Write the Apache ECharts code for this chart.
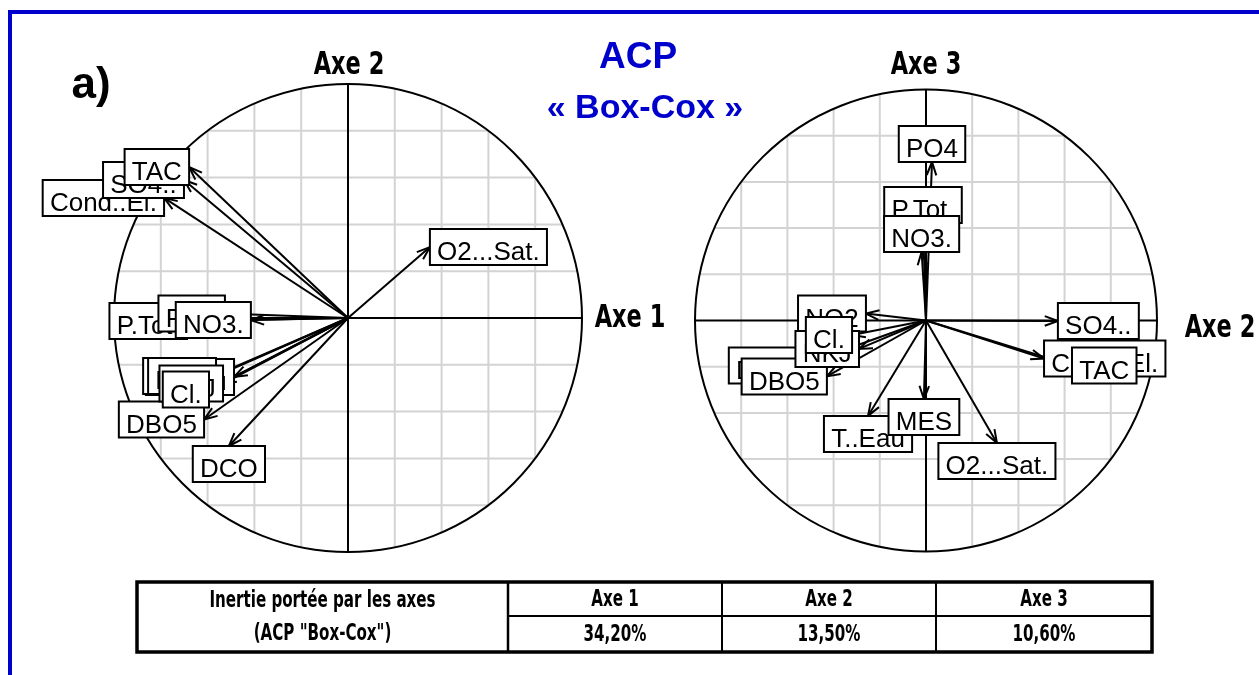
<!DOCTYPE html>
<html>
<head>
<meta charset="utf-8">
<script src="https://cdn.jsdelivr.net/npm/echarts@6/dist/echarts.min.js"></script>
<style>
  html, body { margin: 0; padding: 0; background: #fff; }
  #acp-chart { width: 1259px; height: 675px; }
</style>
</head>
<body>
<div id="acp-chart"></div>
<script>
/* data */
// variables, same order in both circles (later ones drawn on top)
const variables = ['T..Eau', 'MES', 'Cond..El.', 'SO4..', 'TAC', 'O2...Sat.', 'DCO', 'DBO5', 'NO2', 'NKJ', 'Cl.', 'P.Tot.', 'PO4', 'NO3.']
// left circle : Axe 1 (x) / Axe 2 (y)
const axe1Left = [-0.487, -0.573, -0.786, -0.701, -0.679, 0.35, -0.509, -0.615, -0.564, -0.534, -0.594, -0.688, -0.526, -0.415]
const axe2Left = [-0.252, -0.248, 0.513, 0.59, 0.645, 0.303, -0.547, -0.434, -0.248, -0.28, -0.306, -0.013, 0.019, -0.009]
// right circle : Axe 2 (x) / Axe 3 (y)
const axe2Right = [-0.251, -0.009, 0.511, 0.571, 0.632, 0.307, -0.541, -0.429, -0.26, -0.29, -0.32, -0.013, 0.026, -0.019]
const axe3Right = [-0.413, -0.34, -0.165, -0.002, -0.195, -0.53, -0.195, -0.242, 0.03, -0.123, -0.063, 0.422, 0.686, 0.297]
// grid lines of the correlation circles
const gridTicks = [-0.8, -0.6, -0.4, -0.2, 0.2, 0.4, 0.6, 0.8]
// inertia table
const tableHead = 'Inertie portée par les axes'
const tableSub = '(ACP "Box-Cox")'
const tableAxes = ['Axe 1', 'Axe 2', 'Axe 3']
const tableInertia = ['34,20%', '13,50%', '10,60%']

const BLUE = '#0000cc'
const labelFont = '26px "Liberation Sans", Arial, sans-serif'
const narrowFont = '"Liberation Sans Narrow", "DejaVu Sans Condensed", "Liberation Sans", sans-serif'

// text width
const measureCtx = document.createElement('canvas').getContext('2d')
function textWidth(s, font) {
  measureCtx.font = font
  return measureCtx.measureText(s).width
}

const toPoints = (xs, ys) => xs.map((x, i) => [x, ys[i], variables[i]])

/* series builders */
// light grid, cut by the circle
function gridSeries(idx) {
  return {
    type: 'custom',
    xAxisIndex: idx,
    yAxisIndex: idx,
    z: 1,
    data: gridTicks.map(v => [v]),
    renderItem: (params, api) => {
      const v = api.value(0)
      const half = Math.sqrt(1 - v * v)
      const h1 = api.coord([-half, v]), h2 = api.coord([half, v])
      const v1 = api.coord([v, -half]), v2 = api.coord([v, half])
      const style = { stroke: '#d3d3d3', lineWidth: 2 }
      return {
        type: 'group',
        children: [
          { type: 'line', shape: { x1: h1[0], y1: h1[1], x2: h2[0], y2: h2[1] }, style },
          { type: 'line', shape: { x1: v1[0], y1: v1[1], x2: v2[0], y2: v2[1] }, style }
        ]
      }
    }
  }
}

// circle and the two axes
function circleSeries(idx) {
  return {
    type: 'custom',
    xAxisIndex: idx,
    yAxisIndex: idx,
    z: 2,
    data: [[0, 0]],
    renderItem: (params, api) => {
      const c = api.coord([0, 0])
      const r = api.size([1, 1])[0]
      const style = { stroke: '#000', lineWidth: 2, fill: null }
      return {
        type: 'group',
        children: [
          { type: 'circle', shape: { cx: c[0], cy: c[1], r }, style },
          { type: 'line', shape: { x1: c[0] - r, y1: c[1], x2: c[0] + r, y2: c[1] }, style },
          { type: 'line', shape: { x1: c[0], y1: c[1] - r, x2: c[0], y2: c[1] + r }, style }
        ]
      }
    }
  }
}

// arrows from the origin
function arrowSeries(idx, pts) {
  return {
    type: 'custom',
    xAxisIndex: idx,
    yAxisIndex: idx,
    z: 3,
    data: pts,
    renderItem: (params, api) => {
      const o = api.coord([0, 0])
      const p = api.coord([api.value(0), api.value(1)])
      const ang = Math.atan2(p[1] - o[1], p[0] - o[0])
      const L = 14, a = Math.PI / 9
      const h1 = [p[0] - L * Math.cos(ang - a), p[1] - L * Math.sin(ang - a)]
      const h2 = [p[0] - L * Math.cos(ang + a), p[1] - L * Math.sin(ang + a)]
      const style = { stroke: '#000', lineWidth: 2, fill: null }
      return {
        type: 'group',
        children: [
          { type: 'line', shape: { x1: o[0], y1: o[1], x2: p[0], y2: p[1] }, style },
          { type: 'polyline', shape: { points: [h1, p, h2] }, style }
        ]
      }
    }
  }
}

// boxed labels placed around the arrow tips
function labelSeries(idx, pts) {
  return {
    type: 'custom',
    xAxisIndex: idx,
    yAxisIndex: idx,
    z: 4,
    data: pts,
    renderItem: (params, api) => {
      const name = pts[params.dataIndex][2]
      const o = api.coord([0, 0])
      const p = api.coord([api.value(0), api.value(1)])
      const dx = p[0] - o[0], dy = o[1] - p[1]
      const w = textWidth(' ' + name + ' ', labelFont), h = 36
      let cx, cy
      if (dx > dy && dx > -dy) { cx = p[0] + w / 2; cy = p[1] }
      else if (dx > dy) { cx = p[0]; cy = p[1] + h / 2 }
      else if (dx <= -dy) { cx = p[0] - w / 2; cy = p[1] }
      else { cx = p[0]; cy = p[1] - h / 2 }
      return {
        type: 'group',
        children: [
          {
            type: 'rect',
            shape: { x: cx - w / 2, y: cy - h / 2, width: w, height: h },
            style: { fill: '#fff', stroke: '#000', lineWidth: 2 }
          },
          {
            type: 'text',
            x: cx, y: cy + 6,
            style: { text: name, font: labelFont, fill: '#000', align: 'center', verticalAlign: 'middle' }
          }
        ]
      }
    }
  }
}

/* graphic : titles, frame, table */
function txt(x, y, text, font, fill, sx) {
  return {
    type: 'text', x, y, z: 10, scaleX: sx || 1,
    style: { text, font, fill: fill || '#000', align: 'center', verticalAlign: 'middle' }
  }
}
function seg(x1, y1, x2, y2, w, color) {
  return { type: 'line', z: 10, shape: { x1, y1, x2, y2 }, style: { stroke: color || '#000', lineWidth: w } }
}

const tLeft = 137, tRight = 1152, tTop = 582, tBottom = 652, tMid = 616
const colX = [tLeft, 508, 722, 936, tRight]
const axeFont = 'bold 32px ' + narrowFont
const tableFont = 'bold 23px ' + narrowFont

const graphics = [
  seg(8, 12, 1259, 12, 4, BLUE),
  seg(10, 10, 10, 675, 4, BLUE),
  txt(91, 86, 'a)', 'bold 44px "Liberation Sans", Arial, sans-serif'),
  txt(638, 58, 'ACP', 'bold 37px "Liberation Sans", Arial, sans-serif', BLUE),
  txt(645, 109, '« Box-Cox »', 'bold 34px "Liberation Sans", Arial, sans-serif', BLUE),
  txt(349, 66, 'Axe 2', axeFont, null, 0.78),
  txt(630, 319, 'Axe 1', axeFont, null, 0.78),
  txt(926, 66, 'Axe 3', axeFont, null, 0.78),
  txt(1220, 329, 'Axe 2', axeFont, null, 0.78),
  // table
  { type: 'rect', z: 10, shape: { x: tLeft, y: tTop, width: tRight - tLeft, height: tBottom - tTop }, style: { fill: null, stroke: '#000', lineWidth: 3.5 } },
  seg(colX[1], tTop, colX[1], tBottom, 2.5),
  seg(colX[2], tTop, colX[2], tBottom, 2),
  seg(colX[3], tTop, colX[3], tBottom, 2),
  seg(colX[1], tMid, tRight, tMid, 2),
  txt((colX[0] + colX[1]) / 2, 601, tableHead, tableFont, null, 0.73),
  txt((colX[0] + colX[1]) / 2, 634, tableSub, tableFont, null, 0.73)
]
tableAxes.forEach((a, i) => {
  const cx = (colX[i + 1] + colX[i + 2]) / 2
  graphics.push(txt(cx, 600, a, tableFont, null, 0.73))
  graphics.push(txt(cx, 635, tableInertia[i], tableFont, null, 0.73))
})

/* chart */
const myChart = echarts.init(document.getElementById('acp-chart'), null, { renderer: 'canvas' })
const leftPts = toPoints(axe1Left, axe2Left)
const rightPts = toPoints(axe2Right, axe3Right)
const axisBase = { type: 'value', min: -1, max: 1, show: false }

const option = {
  animation: false,
  backgroundColor: '#fff',
  grid: [
    { left: 114, top: 84, width: 468, height: 468 },
    { left: 695, top: 89.5, width: 462, height: 462 }
  ],
  xAxis: [{ ...axisBase, gridIndex: 0 }, { ...axisBase, gridIndex: 1 }],
  yAxis: [{ ...axisBase, gridIndex: 0 }, { ...axisBase, gridIndex: 1 }],
  graphic: graphics,
  series: [
    gridSeries(0), circleSeries(0), arrowSeries(0, leftPts), labelSeries(0, leftPts),
    gridSeries(1), circleSeries(1), arrowSeries(1, rightPts), labelSeries(1, rightPts)
  ]
}
myChart.setOption(option)
</script>
</body>
</html>
